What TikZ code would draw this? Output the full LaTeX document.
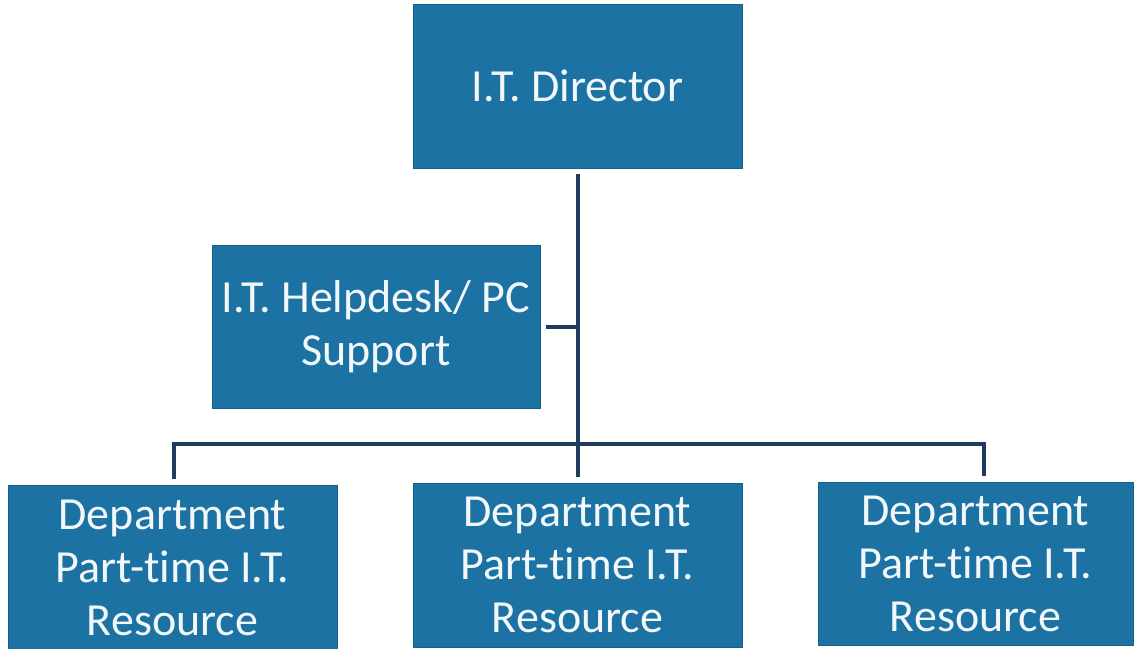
\documentclass[tikz,border=0pt]{standalone}
\usepackage{fontspec}
\setmainfont[Ligatures=NoCommon]{Carlito}
\begin{document}
\begin{tikzpicture}[x=1pt,y=-1pt,
  orgbox/.style={rectangle, fill=boxblue, draw=boxedge, line width=1pt,
    text=boxtext, align=center, inner sep=0pt, outer sep=6pt,
    font=\fontsize{46}{53}\selectfont},
  conn/.style={draw=linenavy, line width=4pt, line join=miter}]
  \definecolor{boxblue}{HTML}{1B72A3}
  \definecolor{boxedge}{HTML}{15608C}
  \definecolor{boxtext}{HTML}{F2F7FA}
  \definecolor{linenavy}{HTML}{1E3D5E}
  \useasboundingbox[fill=white] (0,0) rectangle (1138,648);

  % boxes
  \node[orgbox, minimum width=329pt, minimum height=164pt] (dir) at (577.5,86) {I.T. Director};
  \node[orgbox, minimum width=328pt, minimum height=163pt] (help) at (376,326.5) {I.T. Helpdesk/ PC\\Support};
  \node[orgbox, minimum width=329pt, minimum height=166pt] (d1) at (172.5,568) {Department\\Part-time I.T.\\Resource};
  \node[orgbox, minimum width=329pt, minimum height=164pt] (d2) at (577.5,565) {Department\\Part-time I.T.\\Resource};
  \node[orgbox, minimum width=315pt, minimum height=163pt] (d3) at (975.5,563.5) {Department\\Part-time I.T.\\Resource};

  % connectors
  \coordinate (bus) at (577.5,444);
  \draw[conn] (dir.south) -- (d2.north);
  \draw[conn] (help.east) -- (help.east -| dir.south);
  \draw[conn] ([xshift=1.5pt]d1.north) |- (bus) -| ([xshift=8pt]d3.north);
\end{tikzpicture}
\end{document}
